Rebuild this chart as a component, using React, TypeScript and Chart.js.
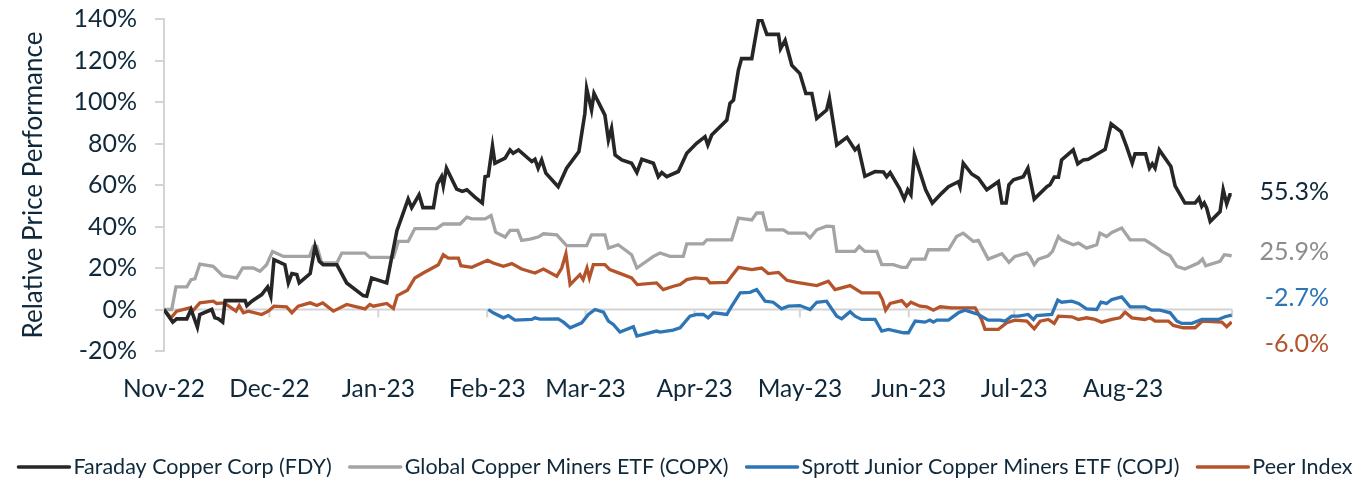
import React, { useEffect, useRef } from "react";
import { Chart, registerables } from "chart.js";

Chart.register(...registerables);

// Month labels and month-start offsets (days since 1 Nov 2022)
const monthLabels = ["Nov-22", "Dec-22", "Jan-23", "Feb-23", "Mar-23", "Apr-23", "May-23", "Jun-23", "Jul-23", "Aug-23"];
const monthStartDays = [0, 30, 61, 92, 120, 151, 181, 212, 242, 273, 304];

// Faraday Copper Corp (FDY)
const fdyDays = [
  0, 2.5, 3.6, 6.5, 7.7, 9.5, 10.2, 13.6, 14.5, 15.5,
  16.7, 17.4, 23.1, 23.6, 25, 27.8, 29.5, 30.4, 31.3, 34.4,
  35.4, 36.4, 37.8, 38.5, 41.6, 43, 44.2, 45.3, 49.2, 52,
  56.7, 57.7, 59.1, 63.4, 66.3, 69.5, 70.5, 72.6, 73.7, 76.7,
  77.8, 79, 79.5, 80.4, 83.3, 84.9, 86.2, 88.5, 90.6, 91.4,
  92.3, 93.5, 94.2, 97.1, 98.5, 99.4, 100.9, 104.7, 105.6, 106.5,
  107.5, 108.7, 112.2, 114.6, 118.1, 119.8, 120.3, 121.7, 122.4, 125.5,
  126.5, 127.4, 128.4, 130.3, 133.1, 134.6, 136, 139.3, 140.7, 141.7,
  143.1, 146.4, 148.8, 151.6, 154, 154.8, 155.9, 160.2, 161.1, 162.1,
  163.5, 164.4, 167.3, 169.2, 170.1, 171.6, 174.9, 175.5, 176.8, 178.7,
  181, 182.7, 184.4, 185.8, 188.6, 189.4, 191.5, 194.4, 196.7, 197.6,
  199.5, 202.4, 204.8, 205.7, 206.7, 209.3, 210.7, 211.7, 212.6, 213.6,
  216.8, 218.7, 221.4, 223.3, 226.1, 226.6, 227.5, 229.9, 231.8, 234.2,
  237.5, 238.5, 239.7, 240.5, 241.8, 244.6, 245.9, 247.7, 251.3, 252.2,
  253.4, 254.6, 255.5, 258.8, 260.1, 261.7, 263.1, 266, 267.9, 269.6,
  272.4, 274, 275.6, 276.4, 279.4, 280.5, 281.3, 282.1, 283.3, 286.6,
  287.8, 288.7, 290.6, 293.5, 294.6, 295.4, 296.1, 296.8, 297.8, 300.6,
  301.5, 302.5, 303.4, 303.9,
];
const fdyValues = [
  0, -6.1, -4.5, -4.5, 0, -8.5, -2.4, 0, -4, -4.5,
  -6.1, 4.3, 4.3, 1.9, 4.0, 7.2, 10.9, 6.4, 24, 21.6,
  12.8, 17.3, 16.8, 12.8, 17.3, 30.4, 23.2, 21.6, 21.6, 12.8,
  6.7, 6.4, 15.2, 12.8, 38, 53.2, 49.1, 55.3, 49.1, 49.1,
  60.4, 64, 59.6, 68.1, 58, 56.9, 57.7, 54.2, 51.3, 64,
  64.4, 78.8, 70.5, 72.9, 76.9, 75.3, 76.9, 71.3, 72.4, 68.1,
  72.1, 65.7, 59.2, 68.1, 76.1, 94.5, 106.5, 96.1, 104.1, 93.7,
  81.7, 87.3, 74.5, 72.1, 70.5, 66.0, 72.4, 70.5, 64.0, 66.0,
  64.0, 66.5, 75.3, 80.1, 83.3, 79.3, 84.1, 91.3, 99.3, 100.9,
  115.3, 120.9, 120.9, 139.3, 139.7, 132.6, 132.6, 125.7, 129.7, 117.7,
  113.7, 104.1, 104.1, 92.1, 96.1, 101.7, 79.3, 83, 76.9, 78.5,
  64.2, 66.5, 66.3, 64.0, 66.0, 58.5, 53.2, 57.7, 55.3, 74.5,
  57.7, 51.3, 56.1, 59.2, 61.6, 59.2, 70.5, 65.3, 63.3, 57.7,
  61.6, 51.3, 51.3, 60.1, 62.5, 64.0, 68.1, 53.2, 59.2, 60.1,
  63.8, 63.8, 72.1, 76.9, 70.2, 72.1, 72.4, 75.3, 77.2, 89.4,
  85.7, 78.5, 70.5, 75.0, 75.0, 68.1, 70.2, 68.1, 76.9, 68.9,
  59.6, 56.9, 51.3, 51.3, 53.7, 49.7, 51.3, 48.9, 42.4, 47.2,
  57.7, 50.9, 55.3, 55.3,
];

// Global Copper Miners ETF (COPX)
const copxDays = [
  0, 2.2, 3.4, 6.5, 7.7, 8.8, 10.2, 14, 16.7, 20.7,
  22.4, 25.4, 27.3, 29.2, 30.9, 34, 41.4, 42.5, 43.5, 44.9,
  49.2, 50.6, 57.2, 58.6, 65.3, 66.7, 69.5, 71.4, 77.6, 79.5,
  84.3, 86.2, 87.6, 91.4, 93.1, 94.4, 97.1, 98.5, 100.7, 101.8,
  104.2, 106.5, 108, 111.8, 114.6, 120.3, 121.7, 125.5, 126.5, 129.3,
  133.1, 134.6, 139.3, 141.2, 144, 147.8, 148.8, 153.5, 154.5, 161.6,
  163.5, 167.3, 168.7, 170.4, 171.6, 176.3, 177.7, 182.5, 183.9, 185.8,
  188.6, 190.5, 191.5, 196.7, 197.9, 199.5, 202.9, 204.3, 207.6, 210,
  211.4, 212.8, 216.6, 217.6, 223.3, 225.6, 227.5, 230.4, 231.8, 232.7,
  234.6, 238.5, 240.5, 242.2, 245.6, 246.5, 247.7, 248.9, 251.7, 252.9,
  254.6, 255.5, 258.8, 260.3, 262.6, 265.5, 266.4, 268.3, 269.8, 272.6,
  275, 279.2, 282.1, 284, 286.4, 288.3, 290.6, 294.4, 295.6, 296.5,
  300.6, 301.8, 303.9,
];
const copxValues = [
  0, 0, 10.9, 10.9, 14.4, 14.8, 21.9, 20.8, 16.3, 15.2,
  20.0, 20.0, 18.4, 21.6, 28.0, 25.6, 25.6, 30.4, 30.4, 22.4,
  22.4, 27.2, 27.2, 25.1, 25.1, 32.8, 32.8, 39.0, 39.0, 41.2,
  41.2, 44.5, 43.7, 43.7, 45.3, 37.3, 34.9, 38.1, 38.1, 33.3,
  33.9, 34.9, 36.5, 36.0, 30.8, 30.8, 36.0, 36.0, 29.6, 31.2,
  26.4, 20.0, 25.6, 27.2, 25.6, 25.6, 31.6, 31.6, 33.6, 33.6,
  44.1, 43.2, 46.5, 46.5, 38.4, 38.4, 36.8, 36.8, 34.5, 38.4,
  40.2, 40.0, 28.0, 28.0, 30.4, 28.0, 28.0, 21.6, 21.6, 20.3,
  20.3, 24.3, 24.3, 28.8, 28.8, 35.2, 36.8, 32.8, 33.3, 30.4,
  24.3, 26.9, 22.7, 25.6, 27.2, 25.6, 21.6, 24.3, 25.9, 28.0,
  35.2, 33.6, 31.2, 32.0, 29.6, 31.2, 36.8, 35.2, 37.1, 39.3,
  33.6, 33.6, 30.4, 28.0, 25.9, 20.8, 19.5, 22.4, 24.3, 21.1,
  23.2, 26.4, 25.9,
];

// Sprott Junior Copper Miners ETF (COPJ) - starts Feb-23
const copjDays = [
  92.3, 93.7, 96.6, 98, 99.9, 104.7, 105.6, 107, 112.2, 113.7,
  115.6, 118.9, 120.8, 122.7, 125.1, 126.5, 127.9, 129.8, 133.6, 134.6,
  140.2, 141.2, 144.9, 146.9, 149.7, 151.6, 153.5, 154.9, 156.4, 160.2,
  161.6, 164, 166.8, 168.7, 171.1, 173.4, 175.8, 177.7, 181, 183.9,
  185.8, 188.6, 191.5, 192.9, 195.3, 196.7, 198.6, 202.4, 204.3, 206.2,
  210.5, 211.9, 213.8, 216.6, 218, 219, 220, 223.3, 226.1, 228,
  231.8, 234.6, 238, 239.4, 241.3, 243.2, 246, 247.5, 248.4, 252.7,
  254.4, 255.5, 258.4, 260.3, 262.6, 265.5, 266.7, 268.3, 269.8, 272.6,
  275, 279.2, 281.1, 283.5, 286.4, 288.3, 289.7, 292.6, 295.4, 300.1,
  302, 303.9,
];
const copjValues = [
  0, -1.6, -4.0, -2.9, -5.1, -4.8, -4.0, -4.6, -4.5, -6.1,
  -8.8, -6.4, -2.4, 0, -1.3, -5.6, -7.2, -10.9, -8.3, -12.8,
  -10.4, -10.9, -9.9, -8.8, -3.2, -2.4, -2.4, -4.0, -1.6, -2.4,
  1.6, 8.0, 8.3, 9.6, 4.0, 3.5, 0.3, 1.6, 1.9, 0,
  3.5, 4.0, -3.2, -4.5, -1.1, -3.2, -4.8, -4.8, -10.4, -9.6,
  -11.2, -11.2, -5.6, -6.1, -5.1, -6.1, -5.1, -5.1, -1.6, -0.3,
  -2.4, -5.1, -5.1, -5.6, -3.2, -3.2, -2.4, -4.8, -2.9, -2.4,
  4.5, 3.5, 4.0, 2.9, 0.3, 0, 3.5, 2.9, 4.8, 6.1,
  1.3, 1.3, -0.3, -0.3, -1.6, -5.6, -6.7, -6.7, -4.8, -4.8,
  -3.5, -2.7,
];

// Peer Index
const peerDays = [
  0, 2, 3.6, 7.4, 8.3, 10.2, 14, 15, 17.1, 20.5,
  21.4, 22.6, 24, 27.8, 29.7, 31.3, 34.9, 36.4, 38.2, 41.6,
  43.5, 45.2, 48.2, 52, 57.2, 58.6, 59.6, 63.4, 65.3, 66.4,
  69.3, 71.4, 73.8, 78.1, 79.5, 80.9, 83.8, 84.5, 87.6, 92.1,
  93.7, 96.6, 99, 101.8, 105.6, 108, 111.8, 113.2, 114.4, 115.6,
  117, 118.4, 119.3, 120.4, 121.1, 122.2, 125.5, 126.9, 130.7, 133.1,
  134.7, 140.2, 142.1, 145, 146.9, 148.8, 151.2, 154.5, 155.4, 160.2,
  163.5, 167.3, 170.1, 172, 174.9, 177.3, 180.1, 185.8, 189.1, 191,
  195.3, 198.6, 203.5, 204.5, 205.4, 206.7, 210, 211.4, 212.6, 215.2,
  217.1, 219, 220.9, 224.2, 230.9, 232.7, 233.7, 237.5, 239.9, 242.2,
  245.6, 247.7, 249.4, 251.7, 253.4, 254.6, 258.4, 260.3, 262.6, 265,
  266.9, 269.8, 272.1, 273.6, 275.5, 279.2, 280.7, 282.1, 285.9, 287.3,
  290.1, 293.5, 295.6, 301.1, 302.5, 303.9,
];
const peerValues = [
  0, -4.0, -0.8, 0.8, -0.5, 3.2, 4.0, 2.9, 3.2, -0.8,
  1.9, -1.6, -0.8, -2.4, -0.8, 1.6, 1.3, -1.6, 1.6, 3.2,
  1.9, 3.2, -0.8, 2.4, 0.3, 2.4, 1.6, 2.9, 0.5, 6.7,
  9.3, 15.2, 17.6, 21.6, 26.4, 24.8, 24.8, 21.1, 20.3, 23.7,
  22.4, 20.8, 22.1, 19.5, 17.6, 19.5, 16.0, 20.0, 26.9, 12.0,
  14.4, 16.8, 14.4, 20.0, 15.2, 21.6, 21.6, 19.2, 16.8, 15.2,
  12.0, 12.8, 9.6, 11.2, 12.0, 14.4, 15.2, 14.8, 12.8, 13.1,
  20.3, 19.2, 20.0, 17.3, 17.9, 14.1, 13.1, 11.5, 13.6, 9.6,
  11.5, 8.0, 8.0, 4.8, -0.3, 2.9, 4.3, 1.6, 3.5, 1.6,
  1.3, -0.3, 1.3, 0.8, 0.8, -4.8, -9.6, -9.6, -6.4, -5.1,
  -5.6, -9.3, -5.6, -4.8, -6.7, -3.2, -3.5, -4.8, -4.0, -4.8,
  -6.1, -4.8, -4.0, -1.3, -4.0, -4.8, -4.0, -5.6, -5.6, -7.7,
  -8.8, -8.8, -5.6, -6.1, -8.3, -6.0,
];

const seriesNames = [
  "Faraday Copper Corp (FDY)",
  "Global Copper Miners ETF (COPX)",
  "Sprott Junior Copper Miners ETF (COPJ)",
  "Peer Index",
];

const FONT = "Lato";
const TEXT = "#10293A";
const LINE_COLORS = ["#262626", "#A5A3A3", "#2E75B6", "#B5542A"];
const LINE_WIDTHS = [3.6, 3.3, 3.3, 3.3];
const LABEL_COLORS = [TEXT, "#8E8C8C", "#2E75B6", "#B5542A"];
const LABEL_OFFSETS = [-3, -4, -17, 22];
const AXIS = "#D4D4D4";

const toPoints = (days: number[], values: number[]) =>
  days.slice(0, Math.min(days.length, values.length)).map((d, i) => ({ x: d, y: values[i] }));

const zeroLinePlugin = {
  id: "zeroLine",
  beforeDatasetsDraw(chart: any) {
    const { ctx, chartArea, scales } = chart;
    const y0 = scales.y.getPixelForValue(0);
    ctx.save();
    ctx.strokeStyle = AXIS;
    ctx.lineWidth = 2;
    ctx.beginPath();
    ctx.moveTo(chartArea.left, y0);
    ctx.lineTo(chartArea.right, y0);
    for (const d of monthStartDays) {
      const x = scales.x.getPixelForValue(d);
      ctx.moveTo(x, y0);
      ctx.lineTo(x, y0 + 8);
    }
    ctx.stroke();
    ctx.restore();
  },
};

const endLabelPlugin = {
  id: "endLabels",
  afterDatasetsDraw(chart: any) {
    const { ctx, chartArea, scales } = chart;
    ctx.save();
    ctx.font = `25px ${FONT}`;
    ctx.textAlign = "right";
    ctx.textBaseline = "middle";
    chart.data.datasets.forEach((ds: any, i: number) => {
      const last = ds.data[ds.data.length - 1];
      const y = scales.y.getPixelForValue(last.y) + LABEL_OFFSETS[i];
      ctx.fillStyle = LABEL_COLORS[i];
      ctx.fillText(`${last.y.toFixed(1)}%`, chartArea.right + 97, y);
    });
    ctx.restore();
  },
};

const legendPlugin = {
  id: "customLegend",
  afterDraw(chart: any) {
    const { ctx, width } = chart;
    const lineLen = 53;
    const gapText = 3;
    const gapItem = 17;
    ctx.save();
    ctx.font = `21.5px ${FONT}`;
    ctx.textBaseline = "middle";
    ctx.textAlign = "left";
    const widths = seriesNames.map((n) => ctx.measureText(n).width);
    const total = widths.reduce((a, w) => a + lineLen + gapText + w, 0) + gapItem * (seriesNames.length - 1);
    let x = (width - total) / 2;
    const y = 467;
    seriesNames.forEach((n, i) => {
      ctx.strokeStyle = LINE_COLORS[i];
      ctx.lineWidth = 3.5;
      ctx.lineCap = "round";
      ctx.beginPath();
      ctx.moveTo(x + 1, y);
      ctx.lineTo(x + lineLen - 1, y);
      ctx.stroke();
      ctx.fillStyle = TEXT;
      ctx.fillText(n, x + lineLen + gapText, y);
      x += lineLen + gapText + widths[i] + gapItem;
    });
    ctx.restore();
  },
};

export default function App() {
  const ref = useRef<HTMLCanvasElement | null>(null);

  useEffect(() => {
    document.body.style.margin = "0";
    const canvas = ref.current;
    if (!canvas) return;
    const all = [
      toPoints(fdyDays, fdyValues),
      toPoints(copxDays, copxValues),
      toPoints(copjDays, copjValues),
      toPoints(peerDays, peerValues),
    ];
    const chart = new Chart(canvas, {
      type: "line",
      data: {
        datasets: all.map((pts, i) => ({
          label: seriesNames[i],
          data: pts,
          borderColor: LINE_COLORS[i],
          backgroundColor: LINE_COLORS[i],
          borderWidth: LINE_WIDTHS[i],
          pointRadius: 0,
          tension: 0,
          fill: false,
          order: i,
        })),
      },
      plugins: [zeroLinePlugin, endLabelPlugin, legendPlugin],
      options: {
        responsive: false,
        animation: false,
        devicePixelRatio: 1,
        layout: { padding: { left: 0, right: 138, top: 19, bottom: 0 } },
        plugins: {
          legend: { display: false },
          tooltip: { enabled: false },
        },
        scales: {
          x: {
            type: "linear",
            min: 0,
            max: 304,
            afterFit: (scale: any) => {
              scale.height = 132;
              scale.paddingLeft = 0;
              scale.paddingRight = 0;
            },
            afterBuildTicks: (scale: any) => {
              scale.ticks = monthStartDays.slice(0, monthLabels.length).map((v) => ({ value: v }));
            },
            grid: { display: false, drawTicks: false },
            border: { display: false },
            ticks: {
              autoSkip: false,
              maxRotation: 0,
              padding: 23,
              color: TEXT,
              font: { family: FONT, size: 24.5 },
              callback: (v: any) => {
                const idx = monthStartDays.indexOf(Number(v));
                return idx >= 0 && idx < monthLabels.length ? monthLabels[idx] : "";
              },
            },
          },
          y: {
            min: -20,
            max: 140,
            afterFit: (scale: any) => {
              scale.width = 164;
              scale.paddingTop = 0;
              scale.paddingBottom = 0;
            },
            grid: {
              display: true,
              drawOnChartArea: false,
              drawTicks: true,
              tickLength: 9,
              color: AXIS,
              lineWidth: 2,
            },
            border: { display: true, color: AXIS, width: 2 },
            ticks: {
              stepSize: 20,
              padding: 18,
              color: TEXT,
              font: { family: FONT, size: 25 },
              callback: (v: any) => `${v}%`,
            },
            title: {
              display: true,
              text: "Relative Price Performance",
              color: TEXT,
              font: { family: FONT, size: 26 },
              padding: { top: 18, bottom: 0 },
            },
          },
        },
      } as any,
    });
    return () => chart.destroy();
  }, []);

  return (
    <div style={{ position: "fixed", left: 0, top: 0, width: 1370, height: 483, background: "#fff" }}>
      <canvas ref={ref} width={1370} height={483} style={{ width: 1370, height: 483, display: "block" }} />
    </div>
  );
}
